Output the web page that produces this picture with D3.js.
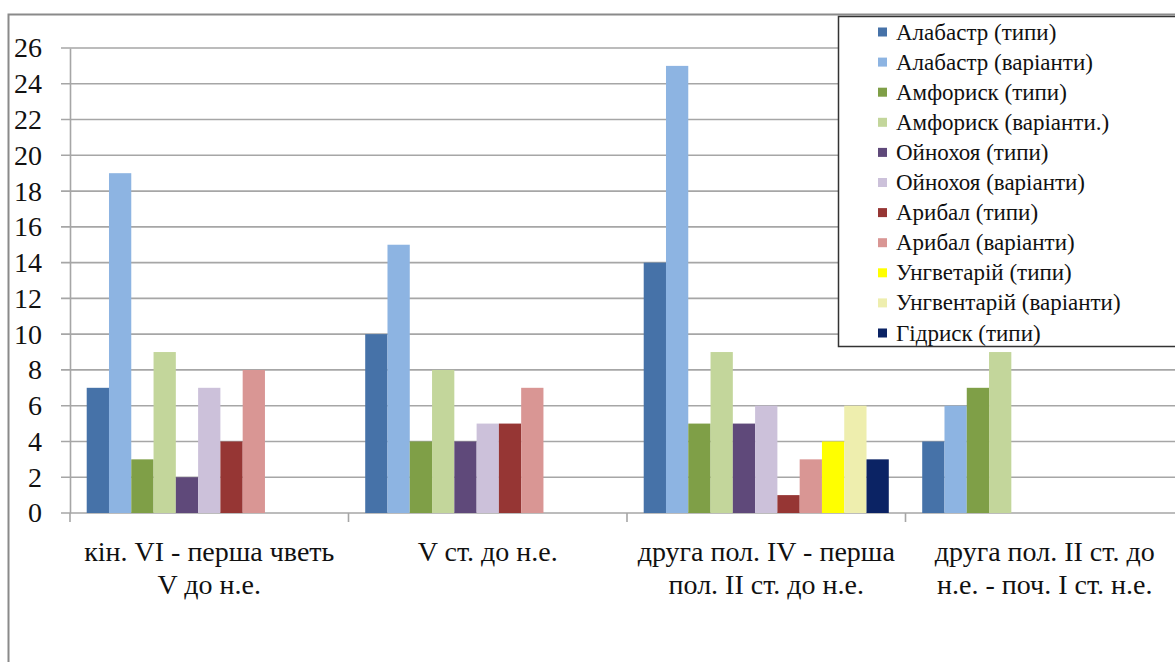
<!DOCTYPE html>
<html><head><meta charset="utf-8">
<script src="https://cdn.jsdelivr.net/npm/d3@7"></script>
</head><body style="margin:0;background:#fff">
<svg id="c" width="1175" height="662" font-family="Liberation Serif"></svg>
<script>
const categories = [
  ["кін. VI  - перша чветь", "V до н.е."],
  ["V ст. до н.е."],
  ["друга пол. IV - перша", "пол. II ст. до н.е."],
  ["друга пол. II ст. до", "н.е. - поч. I ст. н.е."]
];
const seriesNames = ["Алабастр  (типи)","Алабастр  (варіанти)","Амфориск (типи)","Амфориск (варіанти.)","Ойнохоя (типи)","Ойнохоя (варіанти)","Арибал  (типи)","Арибал  (варіанти)","Унгветарій (типи)","Унгвентарій (варіанти)","Гідриск (типи)"];
const colors = ["#4672A8","#8DB4E2","#7F9F47","#C3D69B","#5F497A","#CCC1DA","#963634","#D99694","#FFFF00","#EEEEAE","#0B2364"];
const alabTypes   = [7, 10, 14, 4];
const alabVar     = [19, 15, 25, 6];
const amphTypes   = [3, 4, 5, 7];
const amphVar     = [9, 8, 9, 9];
const oinTypes    = [2, 4, 5, null];
const oinVar      = [7, 5, 6, null];
const aribTypes   = [4, 5, 1, null];
const aribVar     = [8, 7, 3, null];
const ungTypes    = [null, null, 4, null];
const ungVar      = [null, null, 6, null];
const hydrTypes   = [null, null, 3, null];
const seriesValues = [alabTypes, alabVar, amphTypes, amphVar, oinTypes, oinVar, aribTypes, aribVar, ungTypes, ungVar, hydrTypes];
const yTicks = [0,2,4,6,8,10,12,14,16,18,20,22,24,26];

(function(){
const svg = d3.select("#c");
const FF = "Liberation Serif";
function font(sel, size){
  sel.attr("font-family",FF).attr("font-size",size)
     .style("font-family",FF).style("font-size",size+"px");
  return sel;
}

svg.append("rect").attr("x",8.5).attr("y",14.5).attr("width",1200).attr("height",700)
  .attr("fill","#fff").attr("stroke","#8a8a8a").attr("stroke-width",2);

const pl = 70, pr = 1184, pt = 48, pb = 513;
const x0 = d3.scaleBand().domain(d3.range(categories.length)).range([pl,pr]).paddingInner(0).paddingOuter(0);
const x1 = d3.scaleBand().domain(d3.range(seriesNames.length)).range([0,x0.bandwidth()]).paddingOuter(0.75).paddingInner(0);
const y = d3.scaleLinear().domain([0,26]).range([pb,pt]);

svg.append("g").selectAll("line").data(yTicks).join("line")
  .attr("x1",pl-9).attr("x2",1175).attr("y1",d=>y(d)).attr("y2",d=>y(d))
  .attr("stroke","#a6a6a6").attr("stroke-width",1.6);

const ya = svg.append("g").attr("transform",`translate(${pl},0)`)
  .call(d3.axisLeft(y).tickValues(yTicks).tickSize(0).tickPadding(28));
ya.attr("font-family",FF).attr("font-size",28);
ya.select(".domain").attr("stroke","#a6a6a6").attr("stroke-width",1.6);
font(ya.selectAll("text"),28).attr("fill","#111");

svg.append("g").selectAll("line").data(d3.range(categories.length+1)).join("line")
  .attr("x1",i=>pl + i*x0.step()).attr("x2",i=>pl + i*x0.step())
  .attr("y1",pb).attr("y2",pb+9).attr("stroke","#a6a6a6").attr("stroke-width",1.6);

const g = svg.append("g");
seriesValues.forEach((vals,si)=>{
  g.append("g").selectAll("rect").data(vals.map((v,ci)=>({v,ci})).filter(d=>d.v!=null)).join("rect")
    .attr("x",d=>x0(d.ci)+x1(si)).attr("width",x1.bandwidth())
    .attr("y",d=>y(d.v)).attr("height",d=>y(0)-y(d.v)).attr("fill",colors[si]);
});

categories.forEach((lines,ci)=>{
  lines.forEach((t,li)=>{
    font(svg.append("text"),28).attr("x",x0(ci)+x0.bandwidth()/2).attr("y",561+li*33)
      .attr("text-anchor","middle").attr("fill","#111").text(t);
  });
});

svg.append("rect").attr("x",838.5).attr("y",16.5).attr("width",400).attr("height",330)
  .attr("fill","#fff").attr("stroke","#333").attr("stroke-width",1.5);
seriesNames.forEach((n,i)=>{
  const cy = 32 + i*30.1;
  svg.append("rect").attr("x",878).attr("y",cy-4.5).attr("width",9).attr("height",9).attr("fill",colors[i]);
  font(svg.append("text"),23).attr("x",896).attr("y",cy+7.5).attr("fill","#111").text(n);
});
})();
</script>
</body></html>
